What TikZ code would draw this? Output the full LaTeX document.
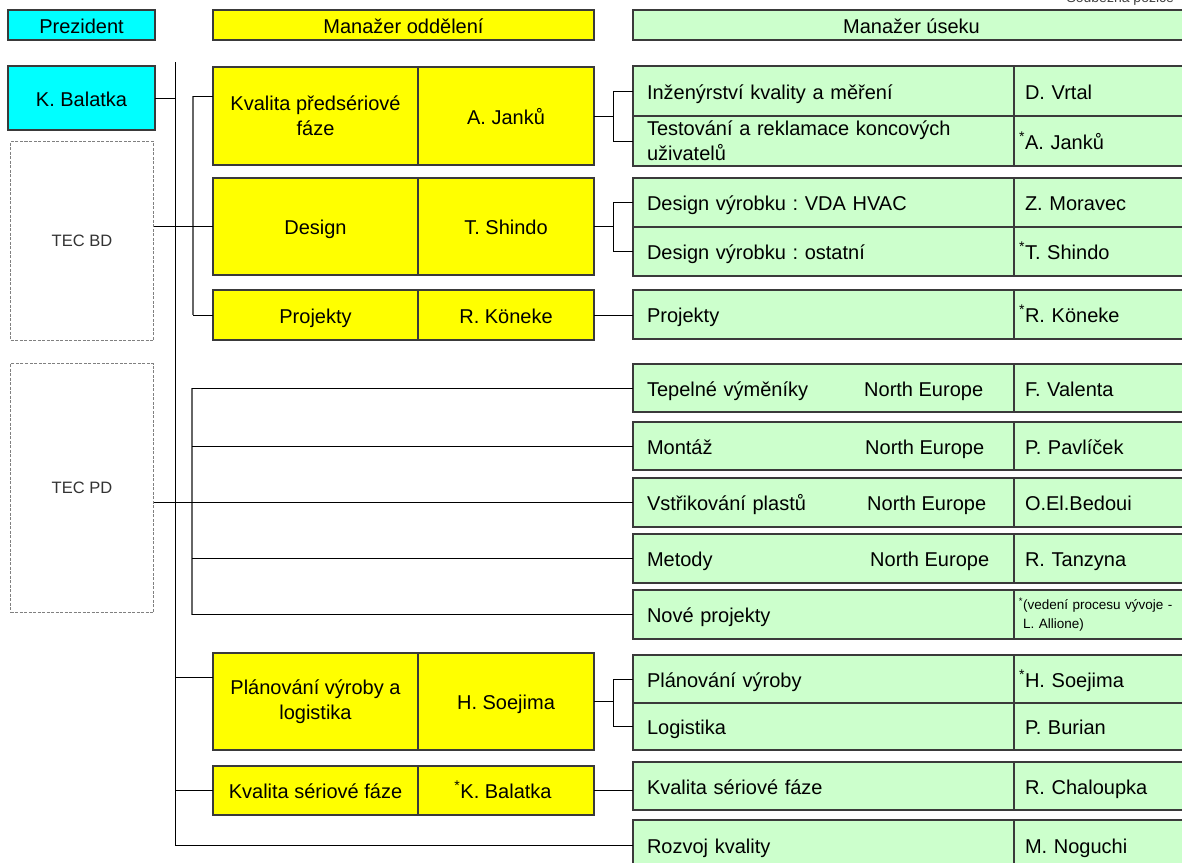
\documentclass[tikz,border=0pt]{standalone}
\usepackage{fontspec}
\setmainfont{Liberation Sans}
\usetikzlibrary{positioning}
\frenchspacing

\definecolor{prescyan}{HTML}{00FFFF}
\definecolor{deptyellow}{HTML}{FFFF00}
\definecolor{sectgreen}{HTML}{CCFFCC}
\definecolor{edgegray}{HTML}{3A3A3A}
\newcommand{\concur}{\llap{\textsuperscript{*}}}

\begin{document}
\begin{tikzpicture}[
    x=1pt, y=-1pt,
    font=\fontsize{20}{25}\selectfont,
    box/.style={draw=edgegray, line width=1.4pt, outer sep=0pt, inner sep=0pt, text height=16pt, text depth=0pt},
    twoline/.style={text height=, text depth=},
    head/.style={box, anchor=north west, minimum height=30pt},
    pres/.style={box, fill=prescyan, anchor=north west, minimum width=147pt},
    tec/.style={draw=gray, dash pattern=on 3pt off 1.5pt, line width=1pt, anchor=north west, minimum width=143pt, font=\fontsize{16.5}{20}\selectfont, text=black!80},
    dept/.style={box, fill=deptyellow, anchor=north west, minimum width=205pt, align=center},
    mgr/.style={box, fill=deptyellow, minimum width=176pt, align=center},
    sect/.style={box, fill=sectgreen, anchor=north west, minimum width=381pt, text width=353pt, align=left},
    who/.style={box, fill=sectgreen, minimum width=176pt, text width=154pt, align=left},
    area/.style={anchor=west, inner sep=0pt, text height=16pt, text depth=0pt},
    link/.style={black, line width=1pt},
    bus/.style={gray!80!black, line width=1.6pt}
]
\useasboundingbox (0,0) rectangle (1182,862);

% headings
\node[anchor=base west, font=\fontsize{14}{16}\selectfont, text=black!75] (souc) at (1063,2) {Souběžná pozice};
\node[head, fill=prescyan, minimum width=147pt] (hpres) at (8,10) {Prezident};
\node[head, fill=deptyellow, minimum width=381pt] (hdept) at (213,10) {Manažer oddělení};
\node[head, fill=sectgreen, minimum width=557pt] (hsect) at (633,10) {Manažer úseku};

% president and TEC groups
\node[pres, minimum height=64pt] (pbal) at (8,66) {K. Balatka};
\node[tec, minimum height=199pt] (tecbd) at (10,141) {TEC BD};
\node[tec, minimum height=249pt] (tecpd) at (10,363) {TEC PD};

% department managers
\node[dept, twoline, minimum height=98pt] (dkq) at (213,67) {Kvalita předsériové\\fáze};
\node[mgr, minimum height=98pt, right=0pt of dkq] (mjan) {A. Janků};
\node[dept, minimum height=97pt] (ddes) at (213,178) {Design};
\node[mgr, minimum height=97pt, right=0pt of ddes] (mshi) {T. Shindo};
\node[dept, minimum height=50pt] (dproj) at (213,290) {Projekty};
\node[mgr, minimum height=50pt, right=0pt of dproj] (mkon) {R. Köneke};
\node[dept, twoline, minimum height=97pt] (dpla) at (213,653) {Plánování výroby a\\logistika};
\node[mgr, minimum height=97pt, right=0pt of dpla] (msoe) {H. Soejima};
\node[dept, minimum height=49pt] (dkvs) at (213,766) {Kvalita sériové fáze};
\node[mgr, minimum height=49pt, right=0pt of dkvs] (mkvs) {\concur K. Balatka};

% section managers
\node[sect, minimum height=50pt] (sinz) at (633,66) {Inženýrství kvality a měření};
\node[who, minimum height=50pt, right=0pt of sinz] (winz) {D. Vrtal};
\node[sect, twoline, minimum height=50pt] (stest) at (633,116) {Testování a reklamace koncových\\uživatelů};
\node[who, minimum height=50pt, right=0pt of stest] (wtest) {\concur A. Janků};
\node[sect, minimum height=49pt] (sdva) at (633,178) {Design výrobku : VDA HVAC};
\node[who, minimum height=49pt, right=0pt of sdva] (wdva) {Z. Moravec};
\node[sect, minimum height=49pt] (sdos) at (633,227) {Design výrobku : ostatní};
\node[who, minimum height=49pt, right=0pt of sdos] (wdos) {\concur T. Shindo};
\node[sect, minimum height=49pt] (sproj) at (633,290) {Projekty};
\node[who, minimum height=49pt, right=0pt of sproj] (wproj) {\concur R. Köneke};

\node[sect, minimum height=48pt] (stpv) at (633,364) {Tepelné výměníky};
\node[who, minimum height=48pt, right=0pt of stpv] (wtpv) {F. Valenta};
\node[sect, minimum height=48pt] (smon) at (633,422) {Montáž};
\node[who, minimum height=48pt, right=0pt of smon] (wmon) {P. Pavlíček};
\node[sect, minimum height=49pt] (svst) at (633,478) {Vstřikování plastů};
\node[who, minimum height=49pt, right=0pt of svst] (wvst) {O.El.Bedoui};
\node[sect, minimum height=49pt] (smet) at (633,534) {Metody};
\node[who, minimum height=49pt, right=0pt of smet] (wmet) {R. Tanzyna};
\node[sect, minimum height=49pt] (snov) at (633,590) {Nové projekty};
\node[who, twoline, minimum height=49pt, text width=158pt, right=0pt of snov, font=\fontsize{13.5}{19}\selectfont] (wnov) {\concur(vedení procesu vývoje -\\L. Allione)};
\node[area] (ntpv) at ([xshift=231pt]stpv.west) {North Europe};
\node[area] (nmon) at ([xshift=232pt]smon.west) {North Europe};
\node[area] (nvst) at ([xshift=234pt]svst.west) {North Europe};
\node[area] (nmet) at ([xshift=237pt]smet.west) {North Europe};

\node[sect, minimum height=48pt] (spla) at (633,655) {Plánování výroby};
\node[who, minimum height=48pt, right=0pt of spla] (wpla) {\concur H. Soejima};
\node[sect, minimum height=47pt] (slog) at (633,703) {Logistika};
\node[who, minimum height=47pt, right=0pt of slog] (wlog) {P. Burian};
\node[sect, minimum height=48pt] (skvs) at (633,762) {Kvalita sériové fáze};
\node[who, minimum height=48pt, right=0pt of skvs] (wkvs) {R. Chaloupka};
\node[sect, minimum height=50pt] (sroz) at (633,820) {Rozvoj kvality};
\node[who, minimum height=50pt, right=0pt of sroz] (wroz) {M. Noguchi};

% trunk from the president
\coordinate (trunktop) at (175,62);
\draw[link] (trunktop) -- (trunktop |- sroz.west) -- (sroz.west);
\draw[link] (pbal.east) -- (pbal.east -| trunktop);
\draw[link] ([yshift=24pt]dpla.west) -- ([yshift=24pt]dpla.west -| trunktop);
\draw[link] (dkvs.west) -- (dkvs.west -| trunktop);

% TEC BD bracket
\coordinate (bdtop) at (193,96);
\draw[bus] (bdtop) -- (bdtop |- dproj.west);
\draw[link] (bdtop) -- (bdtop -| dkq.west);
\draw[link] (tecbd.east |- ddes.west) -- (ddes.west);
\draw[link] (bdtop |- dproj.west) -- (dproj.west);

% TEC PD bracket
\coordinate (pdbus) at (192,388);
\draw[bus] (pdbus |- stpv.west) -- (pdbus |- snov.west);
\draw[link] (tecpd.east |- svst.west) -- (svst.west);
\foreach \s in {stpv,smon,smet,snov}
  \draw[link] (pdbus |- \s.west) -- (\s.west);

% departments to sections
\coordinate (secbus) at (613,0);
\draw[link] (mjan.east) -- (mjan.east -| secbus);
\draw[link] (sinz.west) -| (secbus |- stest.west) -- (stest.west);
\draw[link] (mshi.east) -- (mshi.east -| secbus);
\draw[link] (sdva.west) -| (secbus |- sdos.west) -- (sdos.west);
\draw[link] (mkon.east) -- (mkon.east -| sproj.west);
\draw[link] (msoe.east) -- (msoe.east -| secbus);
\draw[link] (spla.west) -| (secbus |- slog.west) -- (slog.west);
\draw[link] (mkvs.east) -- (mkvs.east -| skvs.west);
\end{tikzpicture}
\end{document}
